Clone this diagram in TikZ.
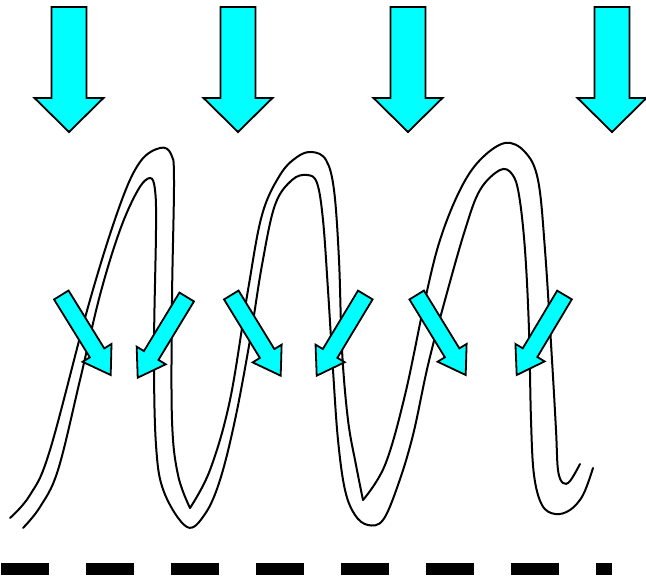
\documentclass[tikz,border=0pt]{standalone}
\usetikzlibrary{calc}
\definecolor{aqua}{RGB}{0,255,255}
\tikzset{
  arrowfill/.style={fill=aqua, draw=black, line width=1.8pt, line join=miter},
  strand/.style={draw=black, line width=2pt, line cap=round, line join=round},
  groundline/.style={draw=black, line width=12pt, dash pattern=on 48pt off 37pt}
}
\newcommand{\bigdownarrow}[1]{%
  \draw[arrowfill] ($(#1)+(-17.5,-125)$) -- ($(#1)+(17.5,-125)$) -- ($(#1)+(17.5,-34)$) -- ($(#1)+(34.5,-34)$) -- (#1) -- ($(#1)+(-34.5,-34)$) -- ($(#1)+(-17.5,-34)$) -- cycle;
}
\newcommand{\slantarrow}[2]{%
  \coordinate (#1n) at ($(#2)!26pt!(#1)$);
  \draw[arrowfill] ($(#1)!8.5pt!90:(#2)$) -- ($(#1n)!8.5pt!90:(#2)$) -- ($(#1n)!17pt!90:(#2)$) -- (#2) -- ($(#1n)!17pt!-90:(#2)$) -- ($(#1n)!8.5pt!-90:(#2)$) -- ($(#1)!8.5pt!-90:(#2)$) -- cycle;
}
\begin{document}
\begin{tikzpicture}[x=1pt,y=-1pt]
\useasboundingbox (0,0) rectangle (646,579);
% ribbon: top strand, three segments with sharp inner-valley vertices
\draw[strand] plot[smooth, tension=0.6] coordinates {(10,518) (30,495) (50,450) (90,300) (120,205) (140,162) (160,148) (171,154) (174,180) (172,300) (172,420) (178,475) (190,508)};
\draw[strand] plot[smooth, tension=0.6] coordinates {(190,508) (210,470) (230,400) (248,290) (262,215) (280,175) (297,157) (312,152) (326,160) (334,190) (339,260) (342,350) (348,420) (356,465) (363,500)};
\draw[strand] plot[smooth, tension=0.6] coordinates {(363,500) (385,465) (405,395) (425,300) (440,240) (460,190) (480,160) (505,143) (525,152) (538,180) (545,250) (552,360) (556,430) (558,470) (563,483) (570,481) (580,464)};
% ribbon: bottom strand
\draw[strand] plot[smooth, tension=0.6] coordinates {(23,528) (40,507) (58,470) (80,380) (100,295) (120,230) (138,190) (150,178) (155,190) (156,230) (154,350) (156,445) (164,492) (187,527) (205,514) (220,480) (235,420) (250,340) (262,265) (275,205) (292,180) (307,175) (317,183) (323,220) (328,290) (333,370) (338,440) (345,490) (355,515) (368,525) (383,520) (398,485) (413,435) (428,365) (445,300) (465,230) (480,190) (500,170) (512,174) (519,195) (525,250) (529,330) (531,420) (534,475) (542,505) (555,514) (570,510) (583,495) (593,468)};
% big arrows
\coordinate (T1) at (69,132);
\coordinate (T2) at (238,132);
\coordinate (T3) at (408,132);
\coordinate (T4) at (612,132);
\bigdownarrow{T1}
\bigdownarrow{T2}
\bigdownarrow{T3}
\bigdownarrow{T4}
% slanted arrows
\coordinate (a1) at (61.3,295);  \coordinate (b1) at (110.7,375);
\coordinate (a2) at (186.7,297); \coordinate (b2) at (137.7,377.7);
\coordinate (a3) at (231.3,295); \coordinate (b3) at (280.7,375.7);
\coordinate (a4) at (365.3,295); \coordinate (b4) at (316.7,375.7);
\coordinate (a5) at (416.7,295); \coordinate (b5) at (465.7,375);
\coordinate (a6) at (564.5,295); \coordinate (b6) at (516.7,375);
\slantarrow{a1}{b1}
\slantarrow{a2}{b2}
\slantarrow{a3}{b3}
\slantarrow{a4}{b4}
\slantarrow{a5}{b5}
\slantarrow{a6}{b6}
% dashed ground line
\coordinate (g0) at (1,569);
\coordinate (g1) at (612,569);
\draw[groundline] (g0) -- (g1);
\end{tikzpicture}
\end{document}
